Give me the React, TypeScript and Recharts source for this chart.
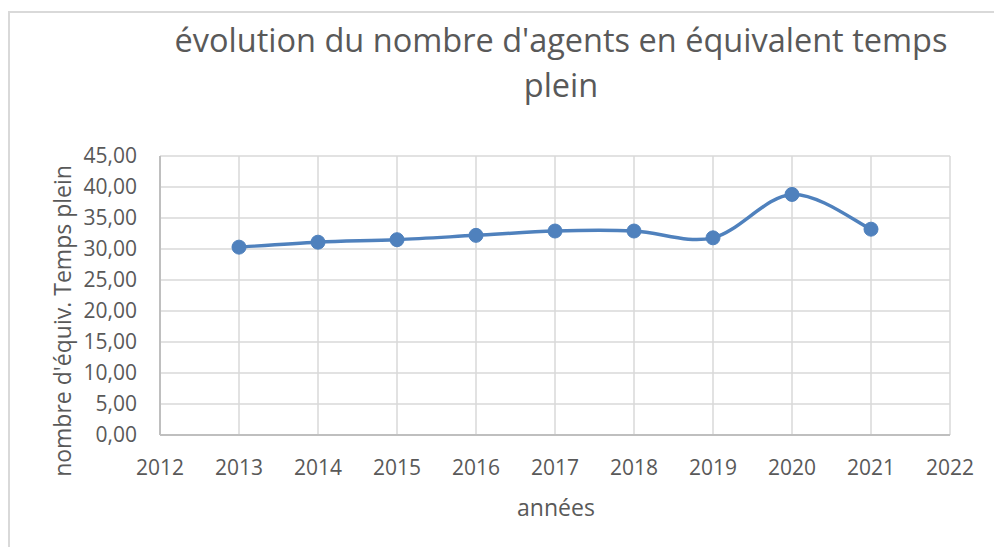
import React from "react";
import { LineChart, Line, XAxis, YAxis, CartesianGrid } from "recharts";

const years = [2013, 2014, 2015, 2016, 2017, 2018, 2019, 2020, 2021];
const agents = [30.3, 31.1, 31.5, 32.2, 32.9, 32.9, 31.8, 38.8, 33.2];
const xTicks = [2012, 2013, 2014, 2015, 2016, 2017, 2018, 2019, 2020, 2021, 2022];
const yTicks = [0, 5, 10, 15, 20, 25, 30, 35, 40, 45];
const titleLines = ["évolution du nombre d'agents en équivalent temps", "plein"];
const xTitle = "années";
const yTitle = "nombre d'équiv. Temps plein";

const data = years.map((y, i) => ({ year: y, value: agents[i] }));

// Excel-like smoothing (Catmull-Rom / cardinal spline)
function excelCurve(context: any) {
  let pts: number[][] = [];
  return {
    areaStart() {},
    areaEnd() {},
    lineStart() {
      pts = [];
    },
    lineEnd() {
      const n = pts.length;
      if (!n) return;
      context.moveTo(pts[0][0], pts[0][1]);
      for (let i = 0; i < n - 1; i++) {
        const p0 = pts[i - 1] || pts[i];
        const p1 = pts[i];
        const p2 = pts[i + 1];
        const p3 = pts[i + 2] || pts[i + 1];
        const c1x = p1[0] + (p2[0] - p0[0]) / 6;
        const c1y = p1[1] + (p2[1] - p0[1]) / 6;
        const c2x = p2[0] - (p3[0] - p1[0]) / 6;
        const c2y = p2[1] - (p3[1] - p1[1]) / 6;
        context.bezierCurveTo(c1x, c1y, c2x, c2y, p2[0], p2[1]);
      }
    },
    point(x: number, y: number) {
      pts.push([+x, +y]);
    },
  };
}

const FONT = "'Open Sans', sans-serif";
const TXT = "#595959";
const BLUE = "#4f81bd";

export default function App() {
  return (
    <div
      style={{
        position: "absolute",
        left: 0,
        top: 0,
        width: 994,
        height: 547,
        background: "#fff",
        overflow: "hidden",
        fontFamily: FONT,
      }}
    >
      <div
        style={{
          position: "absolute",
          left: 8,
          top: 11,
          width: 1000,
          height: 600,
          borderLeft: "2px solid #d9d9d9",
          borderTop: "2px solid #d9d9d9",
          boxSizing: "border-box",
        }}
      />
      <div
        style={{
          position: "absolute",
          left: 61,
          top: 17,
          width: 1000,
          textAlign: "center",
          fontSize: 32.5,
          lineHeight: "45px",
          color: TXT,
          whiteSpace: "nowrap",
        }}
      >
        {titleLines.map((l, i) => (
          <div key={i}>{l}</div>
        ))}
      </div>
      <div style={{ position: "absolute", left: 0, top: 0 }}>
        <LineChart
          width={994}
          height={547}
          data={data}
          margin={{ top: 156, right: 44, left: 70, bottom: 52 }}
        >
          <CartesianGrid stroke="#d9d9d9" strokeWidth={1.5} />
          <XAxis
            type="number"
            dataKey="year"
            domain={[2012, 2022]}
            ticks={xTicks}
            interval={0}
            tickLine={false}
            axisLine={{ stroke: "#bfbfbf", strokeWidth: 2 }}
            tick={{ fill: TXT, fontSize: 21, fontFamily: FONT }}
            tickMargin={19}
            height={60}
          />
          <YAxis
            type="number"
            domain={[0, 45]}
            ticks={yTicks}
            interval={0}
            tickLine={false}
            axisLine={{ stroke: "#bfbfbf", strokeWidth: 2 }}
            tick={{ fill: TXT, fontSize: 21, fontFamily: FONT }}
            tickMargin={17}
            width={90}
            tickFormatter={(v: number) => v.toFixed(2).replace(".", ",")}
          />
          <Line
            dataKey="value"
            type={excelCurve as any}
            stroke={BLUE}
            strokeWidth={3.5}
            dot={{ r: 7, fill: BLUE, stroke: BLUE, strokeWidth: 1 }}
            activeDot={false}
            isAnimationActive={false}
          />
        </LineChart>
      </div>
      <div
        style={{
          position: "absolute",
          left: 356,
          top: 492,
          width: 400,
          textAlign: "center",
          fontSize: 23,
          lineHeight: "30px",
          color: TXT,
        }}
      >
        {xTitle}
      </div>
      <div
        style={{
          position: "absolute",
          left: -138,
          top: 306,
          width: 400,
          textAlign: "center",
          fontSize: 23,
          lineHeight: "30px",
          color: TXT,
          transform: "rotate(-90deg)",
          transformOrigin: "200px 15px",
          whiteSpace: "nowrap",
        }}
      >
        {yTitle}
      </div>
    </div>
  );
}
